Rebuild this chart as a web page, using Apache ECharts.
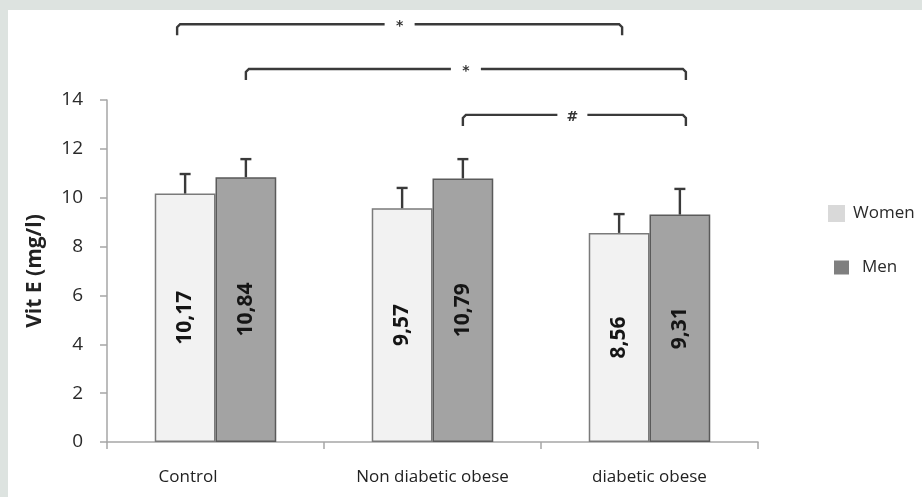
<!DOCTYPE html>
<html>
<head>
<meta charset="utf-8">
<script src="https://cdn.jsdelivr.net/npm/echarts@6/dist/echarts.min.js"></script>
<style>
html,body{margin:0;padding:0;width:922px;height:497px;overflow:hidden;background:#dde3e0;}
#bg{position:absolute;left:8px;top:10px;width:914px;height:487px;background:#ffffff;}
#chart{position:absolute;left:0;top:0;width:922px;height:497px;}
</style>
</head>
<body>
<div id="bg"></div>
<div id="chart"></div>
<script>
// ---- data ----
const categories = ['Control', 'Non diabetic obese', 'diabetic obese'];
const seriesNames = ['Women', 'Men'];
const womenValues = [10.17, 9.57, 8.56];
const menValues = [10.84, 10.79, 9.31];
const womenErrors = [0.80, 0.83, 0.77];
const menErrors = [0.74, 0.79, 1.05];
const yTicks = [0, 2, 4, 6, 8, 10, 12, 14];
// significance brackets: [category, seriesIndex] from -> to, level in axis units, symbol
const bracketFrom = [[0, 0], [0, 1], [1, 1]];
const bracketTo = [[2, 0], [2, 1], [2, 1]];
const bracketLevel = [17.1, 15.27, 13.39];
const bracketSymbol = ['*', '*', '#'];

const BAR_FRAC = 0.28;
const FONT = 'Open Sans, sans-serif';
const chart = echarts.init(document.getElementById('chart'), null, {renderer: 'canvas'});
const fmt = v => v.toFixed(2).replace('.', ',');

function errSeries(values, errors, sign, name) {
  return {
    type: 'custom',
    name: name + ' err',
    z: 5,
    clip: false,
    silent: true,
    data: values.map((v, i) => [i, v, v + errors[i]]),
    renderItem: function (params, api) {
      const band = api.size([1, 0])[0];
      const off = sign * band * BAR_FRAC / 2;
      const p0 = api.coord([api.value(0), api.value(1)]);
      const p1 = api.coord([api.value(0), api.value(2)]);
      const x = p0[0] + off;
      const style = {stroke: '#3a3a3a', lineWidth: 2.4};
      return {
        type: 'group',
        children: [
          {type: 'line', shape: {x1: x, y1: p0[1], x2: x, y2: p1[1]}, style: style},
          {type: 'line', shape: {x1: x - 5.5, y1: p1[1], x2: x + 5.5, y2: p1[1]}, style: style}
        ]
      };
    }
  };
}

const labelCfg = {
  show: true,
  position: 'inside',
  rotate: 90,
  fontSize: 21,
  fontWeight: 'bold',
  fontFamily: FONT,
  color: '#151515',
  formatter: p => fmt(p.value)
};

function legendCfg(name, left, top, w, h, color, pad) {
  return {
    orient: 'vertical',
    left: left,
    top: top,
    itemWidth: w,
    itemHeight: h,
    icon: 'rect',
    textStyle: {fontSize: 17, color: '#2a2a2a', fontFamily: FONT, padding: [0, 0, 0, pad]},
    data: [{name: name, itemStyle: {color: color, borderWidth: 0}}]
  };
}

chart.setOption({
  backgroundColor: 'transparent',
  animation: false,
  grid: {left: 107, right: 164, top: 100, bottom: 55},
  legend: [
    legendCfg('Women', 823, 200, 17, 17, '#d9d9d9', 3),
    legendCfg('Men', 829, 254, 15, 14, '#7f7f7f', 8)
  ],
  xAxis: {
    type: 'category',
    data: categories.map((c, i) => i === 0 ? {value: c, textStyle: {padding: [0, 55, 0, 0]}} : c),
    axisLine: {lineStyle: {color: '#a6a6a6', width: 1.5}},
    axisTick: {show: true, length: 7, lineStyle: {color: '#a6a6a6', width: 1.5}},
    axisLabel: {fontSize: 17, color: '#222', fontFamily: FONT, margin: 27}
  },
  yAxis: {
    type: 'value',
    min: 0,
    max: 14,
    interval: 2,
    name: 'Vit E (mg/l)',
    nameLocation: 'middle',
    nameGap: 61,
    nameTextStyle: {fontSize: 21, fontWeight: 'bold', color: '#222', fontFamily: FONT},
    axisLine: {show: true, lineStyle: {color: '#a6a6a6', width: 1.5}},
    axisTick: {show: true, length: 7, lineStyle: {color: '#a6a6a6', width: 1.5}},
    splitLine: {show: false},
    axisLabel: {fontSize: 19, color: '#2a2a2a', fontFamily: FONT, margin: 24,
      formatter: v => yTicks.includes(v) ? String(v) : ''}
  },
  series: [
    {
      name: seriesNames[0], type: 'bar', data: womenValues,
      barWidth: (BAR_FRAC * 100) + '%', barGap: '0%',
      itemStyle: {color: '#f2f2f2', borderColor: '#7a7a7a', borderWidth: 1.5},
      label: labelCfg
    },
    {
      name: seriesNames[1], type: 'bar', data: menValues,
      barWidth: (BAR_FRAC * 100) + '%', barGap: '0%',
      itemStyle: {color: '#a3a3a3', borderColor: '#5a5a5a', borderWidth: 1.5},
      label: labelCfg
    },
    errSeries(womenValues, womenErrors, -1, 'Women'),
    errSeries(menValues, menErrors, 1, 'Men')
  ]
});

// brackets positioned via the axes
function barX(cat, s) {
  const c = chart.convertToPixel({xAxisIndex: 0}, cat);
  const c2 = chart.convertToPixel({xAxisIndex: 0}, 1) - chart.convertToPixel({xAxisIndex: 0}, 0);
  return c + (s === 0 ? -1 : 1) * c2 * BAR_FRAC / 2;
}
const graphics = [];
bracketLevel.forEach((lvl, i) => {
  const x1 = barX(bracketFrom[i][0], bracketFrom[i][1]) - (i === 0 ? 8 : 0);
  const x2 = barX(bracketTo[i][0], bracketTo[i][1]) + (i === 0 ? 3 : 6);
  const y = chart.convertToPixel({yAxisIndex: 0}, lvl);
  const mid = (x1 + x2) / 2 + (i === 2 ? -2 : 0);
  const gap = 15;
  const drop = 11;
  const style = {stroke: '#3a3a3a', lineWidth: 2.4, fill: null};
  graphics.push({
    type: 'polyline', silent: true,
    shape: {points: [[x1, y + drop], [x1, y + 3], [x1 + 3, y], [mid - gap, y]]},
    style: style
  });
  graphics.push({
    type: 'polyline', silent: true,
    shape: {points: [[mid + gap, y], [x2 - 3, y], [x2, y + 3], [x2, y + drop]]},
    style: style
  });
  graphics.push({
    type: 'text', silent: true,
    style: {text: bracketSymbol[i], x: mid, y: y + 2, align: 'center', verticalAlign: 'middle',
      fontSize: 14, fontWeight: 'bold', fill: '#333', fontFamily: 'DejaVu Sans, sans-serif'}
  });
});
chart.setOption({graphic: graphics});
</script>
</body>
</html>
